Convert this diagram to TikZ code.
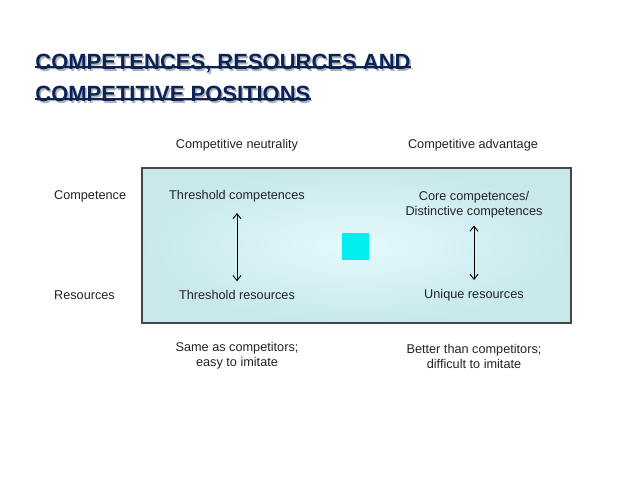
\documentclass[tikz,border=0pt]{standalone}
\usepackage{fontspec}
\setmainfont{Liberation Sans}
\usetikzlibrary{arrows.meta}
\tikzset{every picture/.style={line width=0.75pt}}
\tikzset{lbl/.style={inner sep=0.75pt,font=\fontsize{12.7}{15}\selectfont,color={rgb,255:red,35;green,35;blue,35},align=center},
  ttl/.style={anchor=base west,inner sep=0pt,font=\fontsize{22}{28}\selectfont\bfseries},
  dbl/.style={{Straight Barb[length=5pt,width=8pt]}-{Straight Barb[length=5pt,width=8pt]},line width=0.9pt}}
\definecolor{navy}{RGB}{10,36,90}
\begin{document}
\begin{tikzpicture}[x=1pt,y=1pt,yscale=-1,xscale=1]
\useasboundingbox (0,0) rectangle (638,478);
% Title with shadow
\foreach \dx/\col in {1.5/gray!60,0/navy}{
\node [ttl,text=\col] (t1) at (35+\dx,70+\dx) {COMPETENCES, RESOURCES AND};
\node [ttl,text=\col] (t2) at (35+\dx,102+\dx) {COMPETITIVE POSITIONS};
\draw [color=\col,line width=1.6pt] ([yshift=-3pt]t1.base west) -- ([yshift=-3pt]t1.base east);
\draw [color=\col,line width=1.6pt] ([yshift=-3pt]t2.base west) -- ([yshift=-3pt]t2.base east);
}
% Box
\shade [inner color={rgb,255:red,228;green,250;blue,253},outer color={rgb,255:red,200;green,232;blue,236}] (142,168) rectangle (571,323);
\draw [color={rgb,255:red,70;green,70;blue,70},line width=1.2pt] (142,168) rectangle (571,323);
\fill [color={rgb,255:red,0;green,238;blue,238}] (342,233) rectangle (369,260);

% Headings
\node [lbl] (hneu) at (237,145) {Competitive neutrality};
\node [lbl] (hadv) at (473,145) {Competitive advantage};
\node [lbl,anchor=west] (rcomp) at (53,196) {Competence};
\node [lbl,anchor=west] (rres) at (53,295) {Resources};
% Cells
\node [lbl] (tc) at (237,196) {Threshold competences};
\node [lbl] (tr) at (237,295) {Threshold resources};
\node [lbl] (cc) at (474,205) {Core competences/\\Distinctive competences};
\node [lbl] (ur) at (474,295) {Unique resources};
\node [lbl] (same) at (237,356) {Same as competitors;\\easy to imitate};
\node [lbl] (better) at (474,356) {Better than competitors;\\difficult to imitate};
% Arrows
\draw [dbl] ([yshift=10pt]tc.south) -- ([yshift=-8pt]tr.north);
\draw [dbl] ([yshift=6pt]cc.south) -- ([yshift=-8pt]ur.north);
\end{tikzpicture}
\end{document}
